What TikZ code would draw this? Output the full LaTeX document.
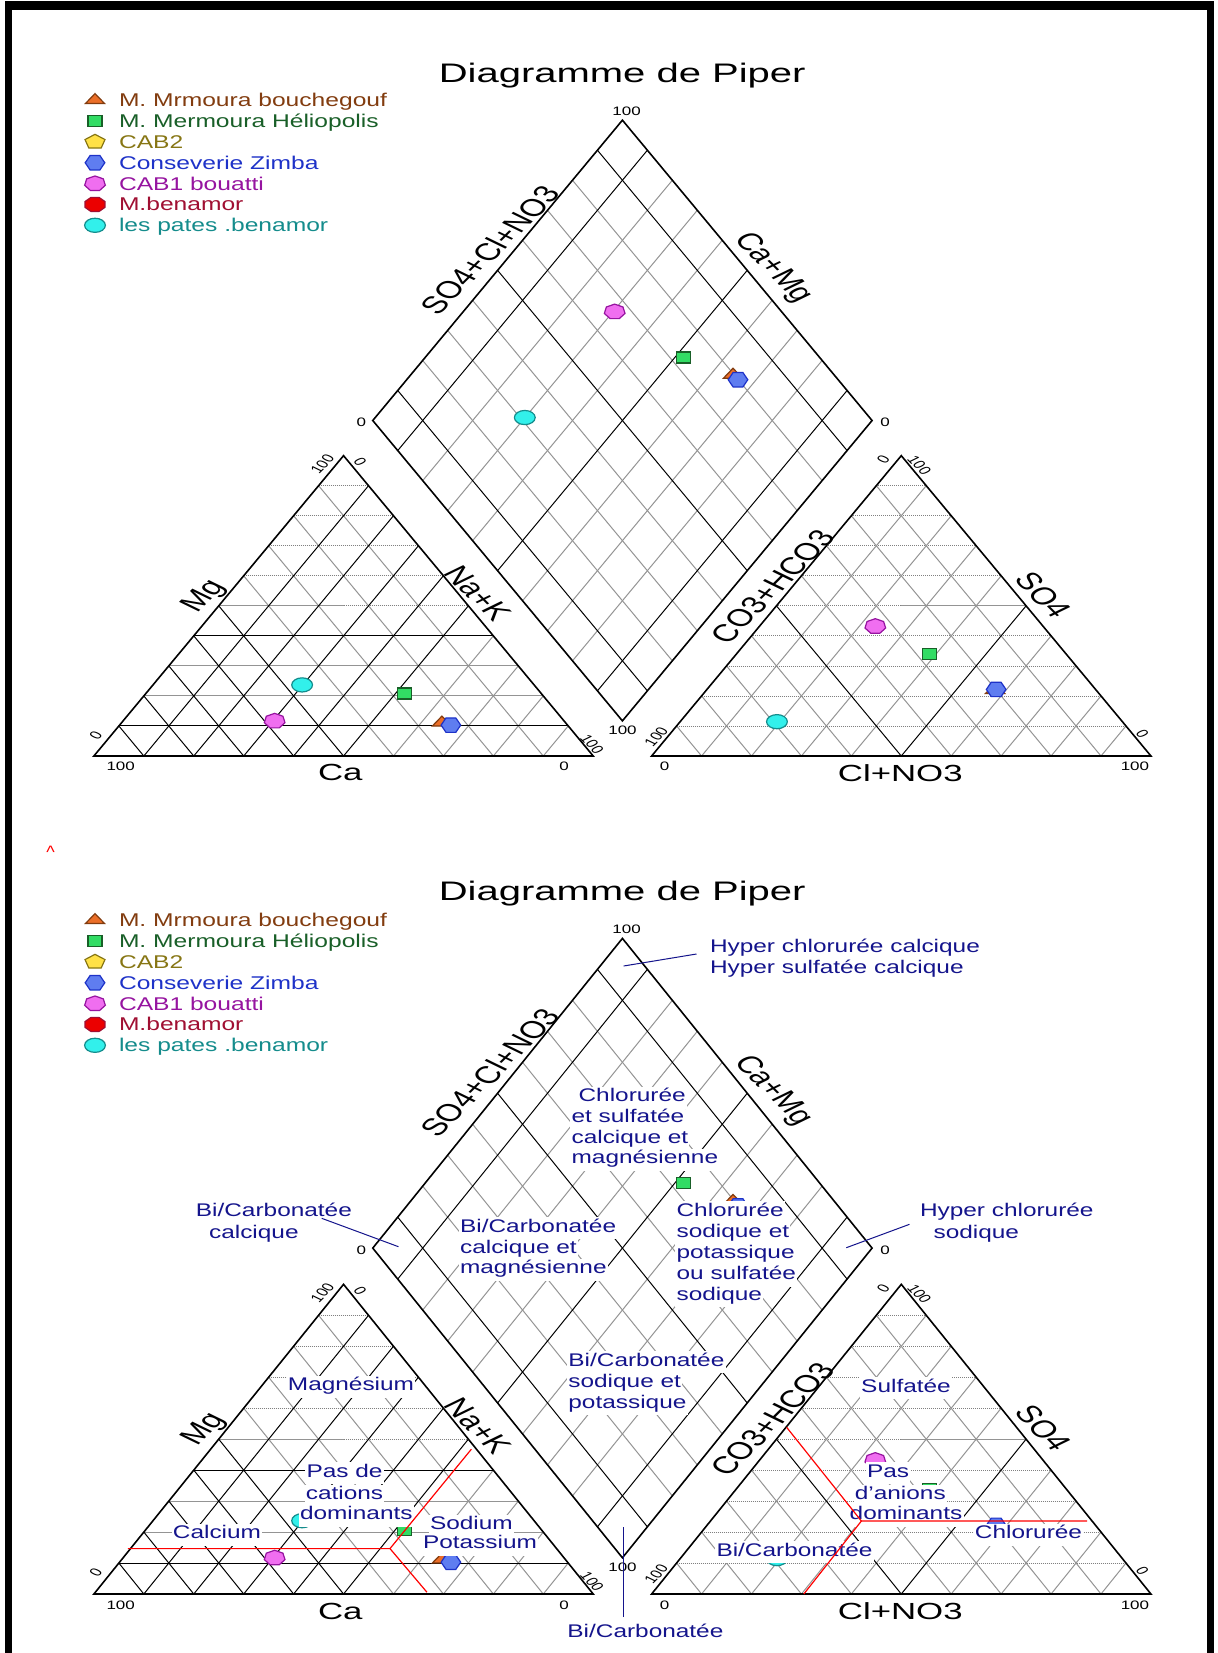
\documentclass[tikz,border=0pt]{standalone}
\usepackage{fontspec}
\setmainfont{Liberation Sans}
\usepackage{graphicx}
\usetikzlibrary{shapes.geometric}
\definecolor{navy}{RGB}{20,20,140}
\definecolor{cbrown}{RGB}{130,60,15}
\definecolor{cdgreen}{RGB}{25,95,40}
\definecolor{colive}{RGB}{135,118,20}
\definecolor{cblue}{RGB}{30,50,200}
\definecolor{cpurple}{RGB}{150,20,160}
\definecolor{cdred}{RGB}{160,15,50}
\definecolor{cteal}{RGB}{20,140,140}
\definecolor{forange}{RGB}{235,110,40}
\definecolor{fgreen}{RGB}{50,220,100}
\definecolor{fyellow}{RGB}{255,225,70}
\definecolor{fblue}{RGB}{95,125,240}
\definecolor{fmagenta}{RGB}{240,110,240}
\definecolor{fred}{RGB}{235,0,0}
\definecolor{fcyan}{RGB}{50,240,235}
\newcommand{\sq}[2][0.75]{\scalebox{1}[#1]{#2}}
\newcommand{\sqs}[1]{\scalebox{1}[0.75]{\strut #1}}
\newcommand{\sqr}[2]{\scalebox{1}[0.695]{\rotatebox{#1}{#2}}}
\tikzset{
  gk/.style={black, line width=0.5pt},
  gg/.style={black!42, line width=0.5pt},
  gd/.style={black!50, line width=0.4pt, dash pattern=on 0.5pt off 0.5pt},
  edgeline/.style={black, line width=0.8pt, line join=miter},
  ax/.style={inner sep=0pt, font=\fontsize{17.4}{18}\selectfont},
  num/.style={inner sep=0pt, font=\fontsize{8.5}{9}\selectfont},
  lg/.style={anchor=base west, inner sep=0pt, font=\fontsize{12.3}{13}\selectfont},
  ann/.style={inner sep=0.6pt, fill=white, text=navy, font=\fontsize{12.2}{13}\selectfont},
  lead/.style={navy, line width=0.5pt},
  redl/.style={red, line width=0.6pt},
  mk/.style={inner sep=0pt, outer sep=0pt, line width=0.6pt},
  mA/.style={mk, regular polygon, regular polygon sides=3, minimum size=11pt, yscale=0.6, draw=cbrown, fill=forange},
  mB/.style={mk, rectangle, minimum width=7pt, minimum height=5.5pt, draw=cdgreen, fill=fgreen},
  mC/.style={mk, regular polygon, regular polygon sides=5, minimum size=10.5pt, yscale=0.72, draw=colive, fill=fyellow},
  mD/.style={mk, regular polygon, regular polygon sides=6, minimum size=9.8pt, yscale=0.85, draw=cblue, fill=fblue},
  mE/.style={mk, regular polygon, regular polygon sides=7, minimum size=10.6pt, yscale=0.72, draw=cpurple, fill=fmagenta},
  mF/.style={mk, regular polygon, regular polygon sides=8, minimum size=10.8pt, yscale=0.7, draw=cdred, fill=fred},
  mG/.style={mk, circle, minimum size=10.4pt, yscale=0.68, draw=cteal, fill=fcyan},
}
% ---------- legend ----------
\newcommand{\legendblock}[1]{%
  \node[mA] (lm1) at (95,{#1-6.5}) {};
  \node[lg, text=cbrown] (lt1) at (118.6,#1) {\sq{M. Mrmoura bouchegouf}};
  \node[mB] (lm2) at (95,{#1+20.85-6.5}) {};
  \node[lg, text=cdgreen] (lt2) at (118.6,{#1+20.85}) {\sq{M. Mermoura Héliopolis}};
  \node[mC] (lm3) at (95,{#1+41.7-6.5}) {};
  \node[lg, text=colive] (lt3) at (118.6,{#1+41.7}) {\sq{CAB2}};
  \node[mD] (lm4) at (95,{#1+62.55-6.5}) {};
  \node[lg, text=cblue] (lt4) at (118.6,{#1+62.55}) {\sq{Conseverie Zimba}};
  \node[mE] (lm5) at (95,{#1+83.4-6.5}) {};
  \node[lg, text=cpurple] (lt5) at (118.6,{#1+83.4}) {\sq{CAB1 bouatti}};
  \node[mF] (lm6) at (95,{#1+104.25-6.5}) {};
  \node[lg, text=cdred] (lt6) at (118.6,{#1+104.25}) {\sq{M.benamor}};
  \node[mG] (lm7) at (95,{#1+125.1-6.5}) {};
  \node[lg, text=cteal] (lt7) at (118.6,{#1+125.1}) {\sq{les pates .benamor}};
}
% ---------- one Piper diagram in Piper units ----------
\newcommand{\piperbody}{%
  \def\s{0.8660254}\def\ox{1.117}\def\bx{1.0585}\def\by{0.10132}%
  % left triangle grid
  \foreach \t in {0.6,0.7,0.8,0.9} \draw[gd] ({\t/2},{\t*\s}) -- ({1-\t/2},{\t*\s});
  \draw[gd] (0.5,{0.5*\s}) -- (0.75,{0.5*\s});
  \draw[gg] (0.25,{0.5*\s}) -- (0.5,{0.5*\s});
  \foreach \t in {0.2,0.3} \draw[gg] ({\t/2},{\t*\s}) -- ({1-\t/2},{\t*\s});
  \foreach \t in {0.6,0.7,0.8,0.9} {\draw[gg] (\t,0) -- ({(1+\t)/2},{(1-\t)*\s}); \draw[gg] (\t,0) -- ({\t/2},{\t*\s});}
  \foreach \t in {0.1,0.2,0.3,0.4,0.5} {\draw[gk] (\t,0) -- ({(1+\t)/2},{(1-\t)*\s}); \draw[gk] (\t,0) -- ({\t/2},{\t*\s});}
  \foreach \t in {0.1,0.4} \draw[gk] ({\t/2},{\t*\s}) -- ({1-\t/2},{\t*\s});
  \draw[edgeline] (0,0) -- (1,0) -- (0.5,\s) -- cycle;
  % right triangle grid
  \foreach \t in {0.1,0.2,0.3,0.4,0.6,0.7,0.8,0.9} \draw[gd] ({\ox+\t/2},{\t*\s}) -- ({\ox+1-\t/2},{\t*\s});
  \draw[gd] ({\ox+0.25},{0.5*\s}) -- ({\ox+0.5},{0.5*\s});
  \draw[gg] ({\ox+0.5},{0.5*\s}) -- ({\ox+0.75},{0.5*\s});
  \foreach \t in {0.1,0.2,0.3,0.4,0.6,0.7,0.8,0.9} {\draw[gg] ({\ox+\t},0) -- ({\ox+(1+\t)/2},{(1-\t)*\s}); \draw[gg] ({\ox+\t},0) -- ({\ox+\t/2},{\t*\s});}
  \draw[gk] ({\ox+0.25},{0.5*\s}) -- ({\ox+0.5},0) -- ({\ox+0.75},{0.5*\s});
  \draw[edgeline] (\ox,0) -- ({\ox+1},0) -- ({\ox+0.5},\s) -- cycle;
  % diamond grid
  \foreach \t in {0.2,0.3,0.4,0.6,0.7,0.8} {
    \draw[gg] ({\bx+0.5*\t},{\by+\s*\t}) -- ({\bx-0.5+0.5*\t},{\by+\s*(1+\t)});
    \draw[gg] ({\bx-0.5*\t},{\by+\s*\t}) -- ({\bx+0.5-0.5*\t},{\by+\s*(1+\t)});}
  \foreach \t in {0.1,0.5,0.9} {
    \draw[gk] ({\bx+0.5*\t},{\by+\s*\t}) -- ({\bx-0.5+0.5*\t},{\by+\s*(1+\t)});
    \draw[gk] ({\bx-0.5*\t},{\by+\s*\t}) -- ({\bx+0.5-0.5*\t},{\by+\s*(1+\t)});}
  \draw[edgeline] (\bx,\by) -- ({\bx+0.5},{\by+\s}) -- (\bx,{\by+2*\s}) -- ({\bx-0.5},{\by+\s}) -- cycle;
  % samples: cations
  \node[mA] (cA) at (0.697,0.096) {};
  \node[mB] (cB) at (0.622,0.180) {};
  \node[mD] (cD) at (0.715,0.089) {};
  \node[mE] (cE) at (0.362,0.101) {};
  \node[mG] (cG) at (0.417,0.205) {};
  % anions
  \node[mA] (aA) at (1.805,0.190) {};
  \node[mB] (aB) at (1.674,0.294) {};
  \node[mD] (aD) at (1.807,0.192) {};
  \node[mE] (aE) at (1.565,0.374) {};
  \node[mG] (aG) at (1.368,0.099) {};
  % diamond
  \node[mA] (dA) at (1.280,1.099) {};
  \node[mB] (dB) at (1.181,1.149) {};
  \node[mD] (dD) at (1.290,1.085) {};
  \node[mE] (dE) at (1.043,1.281) {};
  \node[mG] (dG) at (0.863,0.976) {};
  % axis titles
  \node[ax] (tSO) at (0.7933,1.459) {\sqr{55}{SO4+Cl+NO3}};
  \node[ax] (tCM) at (1.359,1.407) {\sqr{-55}{Ca+Mg}};
  \node[ax] (tMg) at (0.2217,0.4593) {\sqr{55}{Mg}};
  \node[ax] (tNK) at (0.7689,0.469) {\sqr{-55}{Na+K}};
  \node[ax] (tCO) at (1.3593,0.4882) {\sqr{55}{CO3+HCO3}};
  \node[ax] (tS4) at (1.9017,0.4642) {\sqr{-55}{SO4}};
  \node[ax] (tCa) at (0.4935,-0.0482) {\sq[0.67]{Ca}};
  \node[ax] (tCl) at (1.615,-0.0482) {\sq[0.67]{Cl+NO3}};
  % scale numbers
  \node[num] (n1) at (1.0669,1.858) {\sq[0.72]{100}};
  \node[num] (n2) at (0.5355,0.962) {\sq[0.72]{0}};
  \node[num] (n3) at (1.5848,0.962) {\sq[0.72]{0}};
  \node[num] (n4) at (1.0587,0.075) {\sq[0.72]{100}};
  \node[num] (n5) at (0.4576,0.842) {\sqr{55}{100}};
  \node[num] (n6) at (0.533,0.8486) {\sqr{-55}{0}};
  \node[num] (n7) at (0.0036,0.0606) {\sqr{55}{0}};
  \node[num] (n8) at (0.9976,0.0346) {\sqr{-55}{100}};
  \node[num] (n9) at (0.0537,-0.0309) {\sq[0.72]{100}};
  \node[num] (n10) at (0.9415,-0.0309) {\sq[0.72]{0}};
  \node[num] (n11) at (1.5808,0.8555) {\sqr{55}{0}};
  \node[num] (n12) at (1.6533,0.8391) {\sqr{-55}{100}};
  \node[num] (n13) at (1.1262,0.0557) {\sqr{55}{100}};
  \node[num] (n14) at (2.1001,0.0646) {\sqr{-55}{0}};
  \node[num] (n15) at (1.143,-0.0309) {\sq[0.72]{0}};
  \node[num] (n16) at (2.085,-0.0309) {\sq[0.72]{100}};
}
\begin{document}
\begin{tikzpicture}[x=0.5pt, y=-0.5pt]
\useasboundingbox (0,0) rectangle (1218,1653);
\fill[white] (0,0) rectangle (1218,1653);
% frame
\fill[black] (5,1) rectangle (1214,10);
\fill[black] (5,1) rectangle (12,1653);
\fill[black] (1207,1) rectangle (1214,1653);
% ================= top diagram =================
\node[anchor=base, inner sep=0pt, font=\fontsize{20}{22}\selectfont] (title1) at (622.2,82.7) {\sq[0.67]{Diagramme de Piper}};
\begin{scope}[name prefix=top-]
\legendblock{106.7}
\end{scope}
\begin{scope}[shift={(93.9,756)}, x=249.65pt, y=173.4pt, name prefix=tp-]
\piperbody
\end{scope}
% red caret
\node[inner sep=0pt, text=red, font=\fontsize{9}{9}\selectfont] (caret) at (50.6,852) {\textasciicircum};
% ================= bottom diagram =================
\node[anchor=base, inner sep=0pt, font=\fontsize{20}{22}\selectfont] (title2) at (622.2,900) {\sq[0.67]{Diagramme de Piper}};
\begin{scope}[name prefix=bot-]
\legendblock{926.7}
\end{scope}
\begin{scope}[shift={(93.9,1594)}, x=249.65pt, y=178.8pt, name prefix=bp-]
\piperbody
\end{scope}
% ---- leader lines
\coordinate (p1) at (623.6,966); \coordinate (p2) at (398.5,1246.7);
\coordinate (p3) at (846.3,1247.7); \coordinate (p4) at (623,1527);
\node[ann, anchor=base west] (h1) at (708.4,952.2) {\sqs{Hyper chlorurée calcique}};
\node[ann, anchor=base west] (h2) at (708.4,973.2) {\sqs{Hyper sulfatée calcique}};
\draw[lead] (696.5,954) -- (p1);
\node[ann, anchor=base west] (c1) at (577,1101.5) {\sqs{Chlorurée}};
\node[ann, anchor=base west] (c2) at (570,1122.8) {\sqs{et sulfatée}};
\node[ann, anchor=base west] (c3) at (570,1143.8) {\sqs{calcique et}};
\node[ann, anchor=base west] (c4) at (570,1163.8) {\sqs{magnésienne}};
\node[ann, anchor=base west] (b1) at (194.3,1216.5) {\sqs{Bi/Carbonatée}};
\node[ann, anchor=base west] (b2) at (207.5,1238.2) {\sqs{calcique}};
\draw[lead] (321.7,1218.3) -- (p2);
\node[ann, anchor=base west] (m1) at (458.5,1232.2) {\sqs{Bi/Carbonatée}};
\node[ann, anchor=base west] (m2) at (458.5,1253.8) {\sqs{calcique et}};
\node[ann, anchor=base west] (m3) at (458.5,1273.8) {\sqs{magnésienne}};
\node[ann, anchor=base west] (s1) at (675,1216.2) {\sqs{Chlorurée}};
\node[ann, anchor=base west] (s2) at (675,1237.5) {\sqs{sodique et}};
\node[ann, anchor=base west] (s3) at (675,1258.8) {\sqs{potassique}};
\node[ann, anchor=base west] (s4) at (675,1279.5) {\sqs{ou sulfatée}};
\node[ann, anchor=base west] (s5) at (675,1300.2) {\sqs{sodique}};
\node[ann, anchor=base west] (y1) at (918.4,1216.2) {\sqs{Hyper chlorurée}};
\node[ann, anchor=base west] (y2) at (932,1238.8) {\sqs{sodique}};
\draw[lead] (909.5,1224.3) -- (p3);
\node[ann, anchor=base west] (k1) at (566.8,1366.2) {\sqs{Bi/Carbonatée}};
\node[ann, anchor=base west] (k2) at (566.8,1387.2) {\sqs{sodique et}};
\node[ann, anchor=base west] (k3) at (566.8,1408.2) {\sqs{potassique}};
\node[ann, anchor=base] (sul) at (906,1392.2) {\sqs{Sulfatée}};
\node[ann, anchor=base] (mgn) at (351,1390.5) {\sqs{Magnésium}};
\node[ann, anchor=base] (pc1) at (344.5,1477.2) {\sqs{Pas de}};
\node[ann, anchor=base] (pc2) at (344.5,1499.5) {\sqs{cations}};
\node[ann, anchor=base] (pc3) at (356.3,1519.5) {\sqs{dominants}};
\node[ann, anchor=base] (cal) at (217,1538.8) {\sqs{Calcium}};
\node[ann, anchor=base] (sod) at (471.4,1529.5) {\sqs{Sodium}};
\node[ann, anchor=base] (pot) at (480,1548.8) {\sqs{Potassium}};
\node[ann, anchor=base] (pa1) at (888.1,1477.2) {\sqs{Pas}};
\node[ann, anchor=base] (pa2) at (900.3,1499.5) {\sqs{d'anions}};
\node[ann, anchor=base] (pa3) at (906,1519.5) {\sqs{dominants}};
\node[ann, anchor=base] (chl) at (1028.5,1538.8) {\sqs{Chlorurée}};
\node[ann, anchor=base] (bic) at (794.5,1556.2) {\sqs{Bi/Carbonatée}};
\node[ann, anchor=base] (bib) at (645.4,1637.9) {\sqs{Bi/Carbonatée}};
\draw[lead] (623,1617) -- (p4);
% classification lines (on top)
\begin{scope}[shift={(93.9,1594)}, x=249.65pt, y=178.8pt]
\draw[redl] (0.068,0.127) -- (0.593,0.127) coordinate (jc) -- (0.756,0.405);
\draw[redl] (jc) -- (0.667,0.005);
\draw[redl] (1.989,0.2041) -- (1.5371,0.2041) coordinate (ja) -- (1.3875,0.466);
\draw[redl] (ja) -- (1.4218,0);
\end{scope}
\end{tikzpicture}
\end{document}
